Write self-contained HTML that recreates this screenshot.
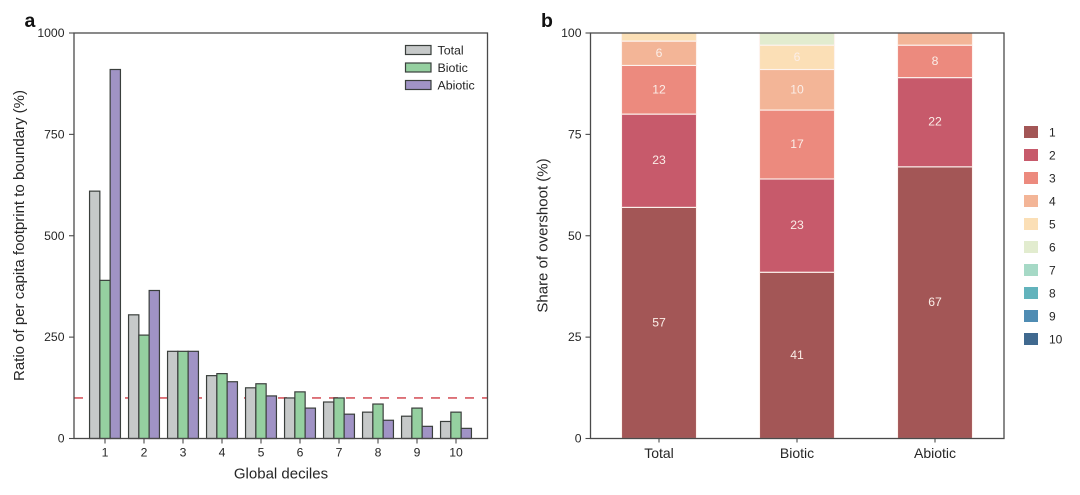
<!DOCTYPE html>
<html>
<head>
<meta charset="utf-8">
<style>
html,body{margin:0;padding:0;background:#fff;}
svg{display:block;font-family:"Liberation Sans",sans-serif;filter:blur(0.3px);}
</style>
</head>
<body>
<svg id="fig" width="1080" height="495" viewBox="0 0 1080 495" xmlns="http://www.w3.org/2000/svg"></svg>
<script>
const deciles = ['1','2','3','4','5','6','7','8','9','10'];
const totalRatio = [610,305,215,155,125,100,90,65,55,42];
const bioticRatio = [390,255,215,160,135,115,100,85,75,65];
const abioticRatio = [910,365,215,140,105,75,60,45,30,25];
const boundaryValue = 100;
const ratioTicks = [0,250,500,750,1000];
const ratioMax = 1000;
const groupNames = ['Total','Biotic','Abiotic'];
const shareTotal = [57,23,12,6,2];
const shareBiotic = [41,23,17,10,6,3];
const shareAbiotic = [67,22,8,3];
const shareTicks = [0,25,50,75,100];
const shareMax = 100;
const minLabelShare = 6;

const NS = 'http://www.w3.org/2000/svg';
const fig = document.getElementById('fig');
function el(tag, attrs, text){
  const e = document.createElementNS(NS, tag);
  for(const k in attrs) e.setAttribute(k, attrs[k]);
  if(text !== undefined) e.textContent = text;
  fig.appendChild(e);
  return e;
}
const TXT = '#262626', SP = '#4a4a4a';
const top_ = 33, bottom = 438.5;
const aL = 74, aR = 487.5, bL = 590.5, bR = 1004;
function xA(i){ return 105 + 39 * i; }
function yA(v){ return bottom - v * (bottom - top_) / ratioMax; }
function xB(i){ return 659 + 138 * i; }
function yB(v){ return bottom - v * (bottom - top_) / shareMax; }

const clip = document.createElementNS(NS,'clipPath');
clip.setAttribute('id','clipb');
const cr = document.createElementNS(NS,'rect');
cr.setAttribute('x',bL);cr.setAttribute('y',top_);cr.setAttribute('width',bR-bL);cr.setAttribute('height',bottom-top_);
clip.appendChild(cr);
fig.appendChild(clip);

/* Panel a */
const refLine = el('line',{x1:aL,x2:aR,y1:yA(boundaryValue),y2:yA(boundaryValue),stroke:'#dc6f76','stroke-width':1.8,'stroke-dasharray':'9 8'});



const seriesA = [
  {name:'total', vals:totalRatio, fill:'#c6c9c9', off:-10.3},
  {name:'biotic', vals:bioticRatio, fill:'#95d0a0', off:0},
  {name:'abiotic', vals:abioticRatio, fill:'#a093c5', off:10.3}
];
const barW = 10.3;
seriesA.forEach(function(s){
  s.vals.forEach(function(v,i){
    const bar = el('rect',{x:xA(i)+s.off-barW/2,y:yA(v),width:barW,height:bottom-yA(v),fill:s.fill,stroke:'#3a3f3c','stroke-width':1.2});
    
    
  });
});

const frameA = el('rect',{x:aL,y:top_,width:aR-aL,height:bottom-top_,fill:'none',stroke:SP,'stroke-width':1.3});



ratioTicks.forEach(function(t){
  const y = yA(t);
  const tick = el('line',{x1:aL-5,x2:aL,y1:y,y2:y,stroke:SP,'stroke-width':1.1});
  
  
  const lab = el('text',{x:64.5,y:y+4,'text-anchor':'end','font-size':12.2,fill:TXT},String(t));
  
  
});
deciles.forEach(function(d,i){
  const x = xA(i);
  const tick = el('line',{x1:x,x2:x,y1:bottom,y2:bottom+5,stroke:SP,'stroke-width':1.1});
  
  
  const lab = el('text',{x:x,y:456.3,'text-anchor':'middle','font-size':12.2,fill:TXT},d);
  
  
});
const xTitleA = el('text',{x:281,y:478.5,'text-anchor':'middle','font-size':15,fill:TXT},'Global deciles');


const yTitleA = el('text',{x:0,y:0,transform:'translate(24,235.5) rotate(-90)','text-anchor':'middle','font-size':15,fill:TXT},'Ratio of per capita footprint to boundary (%)');


const panelA = el('text',{x:24.5,y:27,'font-size':19.5,'font-weight':'bold',fill:'#111'},'a');



const legendNames = ['Total','Biotic','Abiotic'];
const legendFills = ['#c6c9c9','#95d0a0','#a093c5'];
legendNames.forEach(function(n,i){
  const y = 45.5 + 17.5 * i;
  const sw = el('rect',{x:405.5,y:y,width:25.5,height:9,fill:legendFills[i],stroke:'#3a3f3c','stroke-width':1.2});
  
  
  const t = el('text',{x:437.5,y:y+9,'font-size':12.4,fill:TXT},n);
  
  
});

/* Panel b */
const shareSeries = [shareTotal, shareBiotic, shareAbiotic];
const palette = ['#a35656','#c75a6b','#ec8a7e','#f3b597','#fbdfb6','#e2eccf','#a6d9c6','#62b3bc','#4f8cb3','#40698f'];
const stackW = 75;
shareSeries.forEach(function(vals,g){
  let cum = 0;
  vals.forEach(function(v,k){
    const y1 = yB(cum + v), y0 = yB(cum);
    const seg = el('rect',{x:xB(g)-stackW/2,y:y1,width:stackW,height:y0-y1,fill:palette[k],stroke:'#fdf3ee','stroke-width':1.1,'clip-path':'url(#clipb)'});
    
    
    if(v >= minLabelShare){
      const lab = el('text',{x:xB(g),y:(y0+y1)/2+3.5,'text-anchor':'middle','font-size':12.2,fill:'#fbeee8'},String(v));
      
      
    }
    cum += v;
  });
});
const frameB = el('rect',{x:bL,y:top_,width:bR-bL,height:bottom-top_,fill:'none',stroke:SP,'stroke-width':1.3});



shareTicks.forEach(function(t){
  const y = yB(t);
  const tick = el('line',{x1:bL-5,x2:bL,y1:y,y2:y,stroke:SP,'stroke-width':1.1});
  
  
  const lab = el('text',{x:581.5,y:y+4,'text-anchor':'end','font-size':12.2,fill:TXT},String(t));
  
  
});
groupNames.forEach(function(n,i){
  const x = xB(i);
  const tick = el('line',{x1:x,x2:x,y1:bottom,y2:bottom+4,stroke:SP,'stroke-width':1.1});
  
  
  const lab = el('text',{x:x,y:458,'text-anchor':'middle','font-size':14,fill:TXT},n);
  
  
});
const yTitleB = el('text',{x:0,y:0,transform:'translate(547.5,235.5) rotate(-90)','text-anchor':'middle','font-size':15,fill:TXT},'Share of overshoot (%)');


const panelB = el('text',{x:541,y:27,'font-size':19.5,'font-weight':'bold',fill:'#111'},'b');



deciles.forEach(function(d,i){
  const y = 126 + 23 * i;
  const sw = el('rect',{x:1024,y:y,width:14,height:12,fill:palette[i]});
  
  
  const t = el('text',{x:1049,y:y+10.3,'font-size':12,fill:TXT},d);
  
  
});
</script>
</body>
</html>
